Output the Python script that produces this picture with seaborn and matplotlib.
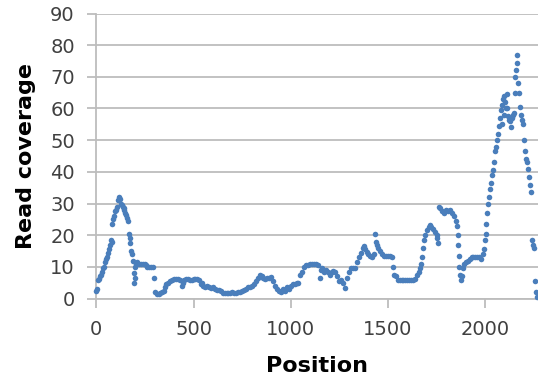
import matplotlib
matplotlib.use("Agg")
import matplotlib.pyplot as plt
import seaborn as sns
import pandas as pd

# Read coverage along the transcript (position in nt, coverage in reads)
position = [
    0, 5, 10, 15, 20, 25, 30, 35, 40, 45, 50, 55, 60, 65, 70, 75, 80,
    82, 85, 90, 95, 100, 105, 110, 115, 120, 125, 130, 135, 140, 145, 150,
    155, 160, 165, 170, 172, 175, 180, 185, 190, 193, 195, 198, 200, 205,
    210, 220, 230, 240, 250, 255, 260, 270, 280, 290, 295, 300, 310, 320,
    330, 340, 350, 355, 360, 370, 380, 390, 400, 410, 420, 430, 440, 445,
    450, 460, 470, 480, 490, 500, 510, 520, 530, 540, 545, 550, 560, 570,
    580, 590, 600, 610, 620, 630, 640, 650, 660, 670, 680, 690, 700, 710,
    720, 730, 740, 750, 760, 770, 780, 790, 800, 810, 820, 830, 840, 850,
    860, 870, 880, 890, 900, 910, 920, 930, 940, 950, 960, 970, 980, 990,
    1000, 1010, 1020, 1030, 1040, 1050, 1060, 1070, 1080, 1090, 1100, 1110,
    1120, 1130, 1140, 1150, 1155, 1160, 1170, 1180, 1190, 1200, 1210, 1220,
    1230, 1240, 1250, 1260, 1270, 1280, 1290, 1300, 1310, 1320, 1330, 1340,
    1350, 1360, 1370, 1375, 1380, 1390, 1400, 1410, 1420, 1430, 1435, 1440,
    1445, 1450, 1460, 1470, 1480, 1490, 1500, 1510, 1520, 1525, 1530, 1540,
    1550, 1560, 1570, 1580, 1590, 1600, 1610, 1620, 1630, 1640, 1650, 1660,
    1665, 1670, 1675, 1680, 1685, 1690, 1700, 1710, 1715, 1720, 1730, 1740,
    1750, 1755, 1760, 1765, 1770, 1780, 1790, 1800, 1810, 1820, 1830, 1840,
    1850, 1855, 1860, 1862, 1865, 1868, 1872, 1877, 1882, 1885, 1890, 1900,
    1910, 1920, 1930, 1940, 1950, 1960, 1970, 1980, 1990, 1995, 2000, 2003,
    2006, 2010, 2015, 2020, 2025, 2030, 2035, 2040, 2045, 2050, 2055, 2060,
    2065, 2070, 2075, 2080, 2085, 2088, 2090, 2095, 2098, 2100, 2105, 2110,
    2115, 2120, 2125, 2130, 2135, 2140, 2145, 2150, 2152, 2155, 2158, 2162,
    2166, 2170, 2175, 2180, 2185, 2190, 2195, 2200, 2205, 2210, 2215, 2220,
    2225, 2230, 2235, 2240, 2245, 2250, 2255, 2260, 2265,
]
coverage = [
    2.5, 3, 5.8, 6.3, 7, 7.5, 8.5, 9.5, 10, 11.5, 12.5, 13, 14.5, 15.5, 17, 18.5, 18,
    23.5, 25, 26, 27.5, 28, 29, 31, 32, 31.5, 30, 29.5, 29, 28.5, 28, 27,
    26.5, 25.5, 24.5, 20.5, 19, 17.5, 15, 14, 12, 8, 5, 6.5, 10, 11,
    11.5, 11, 11, 11, 11, 10.5, 10, 9.8, 9.8, 9.8, 6.5, 2, 1.5, 1.5,
    1.8, 2, 2.5, 3.5, 4.5, 5, 5.5, 6, 6.3, 6.3, 6.2, 6, 4, 5,
    6, 6.3, 6.3, 6, 6, 6.2, 6.3, 6.2, 6, 4.5, 5, 3.8, 3.5, 3.8,
    3.5, 3.3, 3.5, 3, 2.8, 2.8, 2.5, 1.8, 1.8, 1.7, 1.8, 1.8, 2, 1.7,
    1.8, 2, 2.2, 2.5, 2.8, 3, 3.5, 3.5, 4, 4.5, 5.5, 6.5, 7.3, 7,
    6.5, 6.3, 6.5, 6.5, 6.8, 5.5, 4, 3, 2.5, 2.2, 3, 2.5, 3.5, 3,
    4, 4.5, 4.5, 5, 5, 7.3, 8.5, 10, 10.5, 10.5, 10.8, 11,
    11, 11, 10.5, 6.5, 9, 9.5, 8.5, 9, 8.5, 7.5, 8.5, 8.8,
    8.5, 7, 5.5, 6, 5, 3.3, 6.5, 8.5, 9.5, 9.7, 9.5, 11.5,
    13, 14.5, 16, 16.5, 15.5, 14.8, 14, 13.5, 13, 14, 20.5, 18,
    17, 16, 15, 14, 13.5, 13.5, 13.3, 13.3, 13.2, 10, 7.5, 7,
    6, 5.8, 5.8, 5.8, 5.8, 5.8, 5.8, 6, 6, 6.3, 7.3, 8.5,
    9.5, 11, 13.2, 16, 18.5, 20, 21.5, 22.5, 23.3, 22.5, 22, 21,
    20, 19, 17.5, 29, 28.5, 27.5, 27, 28, 27.5, 28, 27, 26,
    24.5, 23, 20, 17, 13.5, 10, 7.5, 6, 7, 9.5, 11, 11.5,
    11.8, 12.5, 13, 13, 13, 13, 13, 12.5, 14, 15.5, 18.5, 20.5,
    23.5, 27, 30, 32, 34.5, 36.5, 39, 40.5, 43, 46.5, 48, 50,
    52, 54.5, 57, 59.5, 61, 55, 63, 64, 58, 62, 60, 64.5,
    60, 57.5, 56.5, 56, 54, 57, 58, 58.5, 65, 70, 72, 74.5,
    77, 68, 65, 60.5, 58, 56.5, 55, 50, 46.5, 44, 43, 41,
    38.5, 36, 33.5, 18.5, 17, 16, 5.5, 2, 0.5,
]

df = pd.DataFrame({"Position": position, "Read coverage": coverage})

sns.set_theme(style="white")
plt.rcParams["font.family"] = ["DejaVu Sans"]

W, H = 538, 391
fig = plt.figure(figsize=(W / 100, H / 100), dpi=100)
left, right, top, bottom = 96.3, 538, 13.5, 298.5
ax = fig.add_axes([left / W, 1 - bottom / H, (right - left) / W, (bottom - top) / H])

grid_color = "#BDBDBD"
ax.set_axisbelow(True)
ax.yaxis.grid(True, color=grid_color, linewidth=1.3)
ax.xaxis.grid(False)

sns.scatterplot(data=df, x="Position", y="Read coverage", ax=ax,
                color="#4A7EBB", s=16, linewidth=0, clip_on=False, zorder=3)

ax.set_xlim(0, 2272)
ax.set_ylim(0, 90)
ax.set_xticks([0, 500, 1000, 1500, 2000])
ax.set_yticks(range(0, 91, 10))

for side in ("top", "right"):
    ax.spines[side].set_visible(False)
for side in ("left", "bottom"):
    ax.spines[side].set_color(grid_color)
    ax.spines[side].set_linewidth(1.3)

ax.tick_params(axis="both", direction="out", length=6.5, width=1.3,
               color=grid_color, labelcolor="#404040", labelsize=14, pad=9)
ax.tick_params(axis="y", left=True)
ax.tick_params(axis="x", bottom=True)

ax.set_xlabel("Position", fontsize=16, fontweight="bold", color="black", labelpad=12)
ax.set_ylabel("Read coverage", fontsize=16, fontweight="bold", color="black", labelpad=10)

fig.savefig("out.png", dpi=100)
